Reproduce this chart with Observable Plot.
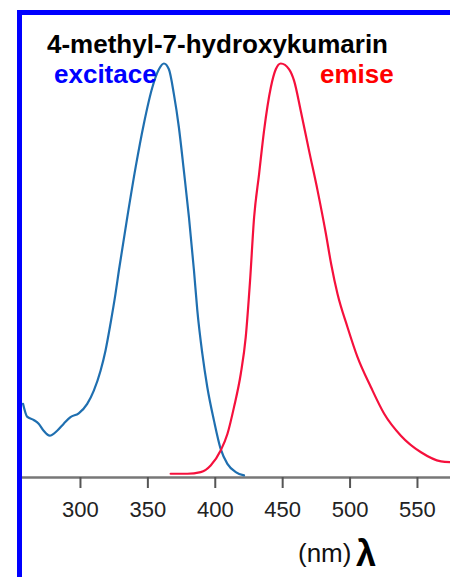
<!DOCTYPE html>
<html>
<head>
<meta charset="utf-8">
<script src="https://cdn.jsdelivr.net/npm/d3@7"></script>
<script src="https://cdn.jsdelivr.net/npm/@observablehq/plot@0.6"></script>
<style>
  html, body { margin: 0; padding: 0; background: #fff; width: 450px; height: 577px; overflow: hidden; }
  body { position: relative; font-family: "Liberation Sans", Arial, Helvetica, sans-serif; }
  #frame { position: absolute; left: 17px; top: 10px; width: 428px; height: 562px;
           border-left: 5px solid #0000ff; border-top: 5px solid #0000ff; }
  #frame svg { display: block; }
  .lbl { position: absolute; white-space: nowrap; line-height: 1; }
</style>
</head>
<body>
<div id="frame"></div>
<div class="lbl" id="title" style="left:47px; top:31px; font-size:26px; font-weight:bold; color:#000;"></div>
<div class="lbl" id="exLabel" style="left:54px; top:61px; font-size:26px; font-weight:bold; color:#0000ff;"></div>
<div class="lbl" id="emLabel" style="left:320px; top:61px; font-size:26px; font-weight:bold; color:#ff0000;"></div>
<div class="lbl" id="unit" style="left:298px; top:540px; font-size:26px; color:#111;"></div>
<div class="lbl" id="lambda" style="left:356px; top:536px; font-size:36px; font-weight:bold; color:#000;"></div>
<script>
// ---- texts ----
const titleText = "4-methyl-7-hydroxykumarin";
const excitationLabel = "excitace";
const emissionLabel = "emise";
const unitLabel = "(nm)";
const lambdaLabel = "λ";

// ---- axis ----
const xTicks = [300, 350, 400, 450, 500, 550];
const xDomain = [257, 574.5];

// ---- excitation spectrum (wavelength nm, relative intensity %) ----
const excitationNm = [257.4, 260.4, 265.3, 269.0, 272.7, 277.2, 282.7, 287.6, 292.6, 298.7, 305.0, 309.9, 314.9, 318.6, 322.3, 326.0, 328.5, 334.7, 340.9, 347.0, 353.3, 358.2, 361.9, 365.6, 369.3, 373.0, 376.7, 380.5, 384.2, 386.7, 390.4, 394.1, 399.0, 404.0, 409.0, 415.2, 421.3];
const excitationVal = [17.8, 14.7, 13.9, 13.0, 11.3, 10.1, 11.3, 13.0, 14.6, 15.5, 17.8, 21.0, 25.8, 30.7, 37.2, 44.4, 50.0, 62.8, 74.9, 85.4, 94.2, 98.6, 100, 98.6, 92.6, 84.6, 74.1, 62.8, 50.0, 40.3, 29.9, 21.8, 13.8, 6.9, 3.3, 1.3, 0.5];

// ---- emission spectrum (wavelength nm, relative intensity %) ----
const emissionNm = [366.9, 379.3, 389.2, 396.6, 404.0, 409.0, 413.9, 418.9, 422.6, 425.8, 428.8, 432.5, 436.2, 441.2, 444.9, 448.6, 454.8, 458.5, 463.4, 469.6, 475.9, 482.0, 486.0, 490.7, 498.1, 505.6, 515.5, 525.3, 537.7, 552.6, 567.5, 574.9];
const emissionVal = [0.9, 0.9, 1.3, 2.9, 6.5, 10.5, 17.0, 25.0, 33.9, 47.5, 62.8, 73.3, 83.8, 94.2, 98.6, 100, 98.6, 95.8, 88.6, 78.9, 69.3, 59.0, 51.5, 44.3, 36.3, 29.0, 21.8, 15.4, 10.1, 6.1, 3.9, 3.7];

const excitation = excitationNm.map((nm, i) => ({nm, v: excitationVal[i]}));
const emission = emissionNm.map((nm, i) => ({nm, v: emissionVal[i]}));

document.getElementById("title").textContent = titleText;
document.getElementById("exLabel").textContent = excitationLabel;
document.getElementById("emLabel").textContent = emissionLabel;
document.getElementById("unit").textContent = unitLabel;
document.getElementById("lambda").textContent = lambdaLabel;

const chart = Plot.plot({
  width: 428,
  height: 562,
  marginLeft: 0,
  marginRight: 0,
  marginTop: 48,
  marginBottom: 100,
  style: {fontFamily: "'Liberation Sans', Arial, Helvetica, sans-serif", color: "#333", background: "transparent", overflow: "visible"},
  x: {domain: xDomain, axis: null},
  y: {domain: [0, 100], axis: null},
  marks: [
    Plot.ruleY([0], {stroke: "#777", strokeWidth: 2.5}),
    Plot.axisX({ticks: xTicks, label: null, tickSize: 11, tickPadding: 13, fontSize: 22, strokeWidth: 2, stroke: "#555", fill: "#222", tickFormat: d => String(d)}),
    Plot.line(excitation, {x: "nm", y: "v", stroke: "#1f6fb0", strokeWidth: 2.2, curve: "monotone-x"}),
    Plot.line(emission, {x: "nm", y: "v", stroke: "#f5103c", strokeWidth: 2.2, curve: "monotone-x"})
  ]
});
document.getElementById("frame").appendChild(chart);
</script>
</body>
</html>
